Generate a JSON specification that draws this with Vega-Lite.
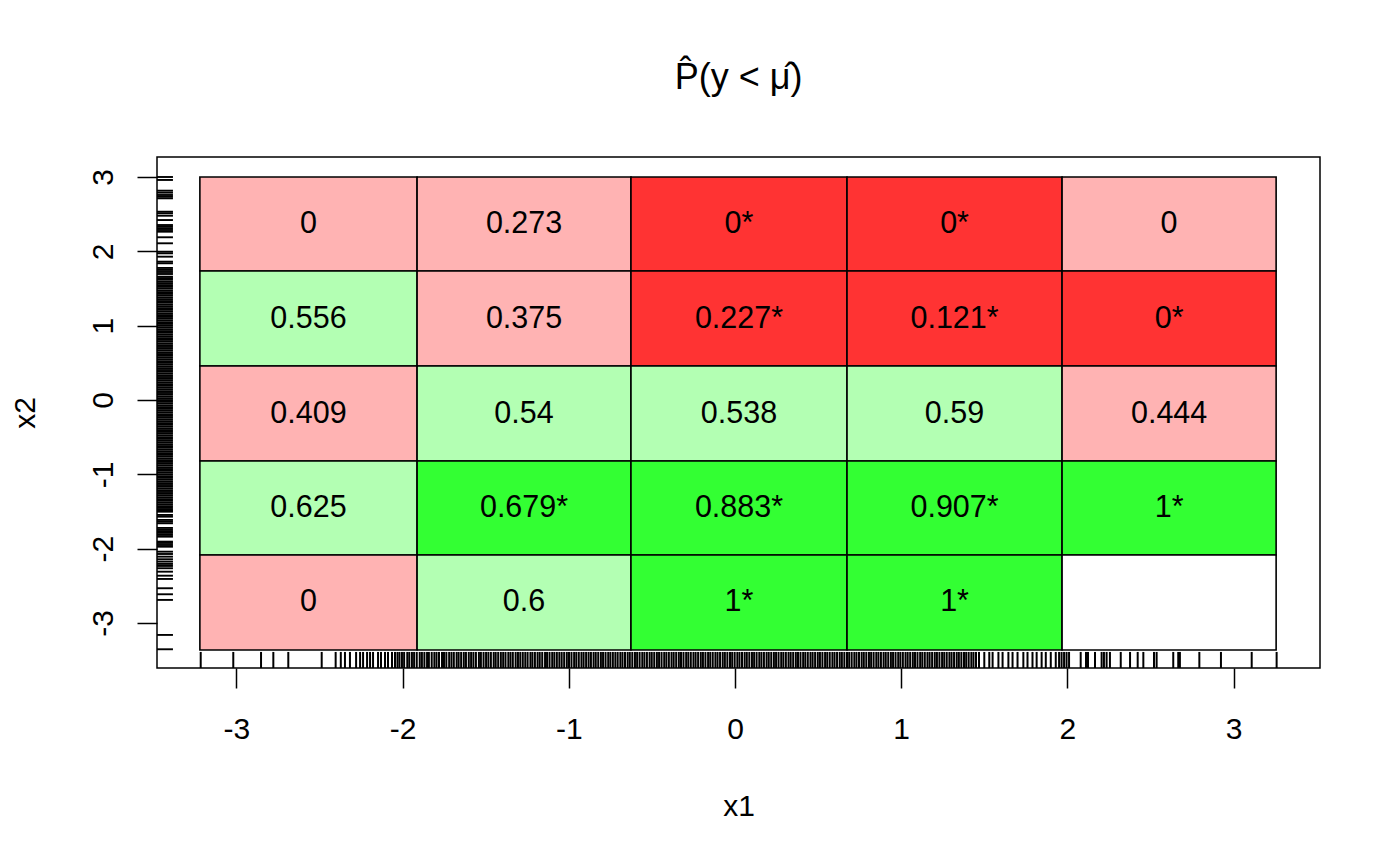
{
  "$schema": "https://vega.github.io/schema/vega-lite/v6.json",
  "autosize": {"type": "none"},
  "padding": {"left": 157, "top": 157, "right": 80, "bottom": 197},
  "width": 1163,
  "height": 511,
  "background": "white",
  "title": {"text": "P\u0302(y < \u03bc\u0302)", "fontSize": 36, "font": "Liberation Sans", "fontWeight": "normal", "color": "black", "offset": 32, "baseline": "alphabetic", "anchor": "middle"},
  "config": {
    "view": {"stroke": "black", "strokeWidth": 1.5},
    "axis": {"domain": false, "grid": false, "tickColor": "black", "tickWidth": 1.5, "tickSize": 20, "labelFont": "Liberation Sans", "labelFontSize": 30, "labelColor": "black", "titleFont": "Liberation Sans", "titleFontSize": 30, "titleFontWeight": "normal", "titleColor": "black"},
    "axisX": {"labelPadding": 26, "titlePadding": 47},
    "axisY": {"labelPadding": 25, "labelAngle": 270, "labelAlign": "center", "labelBaseline": "alphabetic", "titlePadding": 48}
  },
  "datasets": {
    "cells": [
      {"x1": -3.22, "x2": -1.913, "y1": 1.735, "y2": 3.0, "label": "0", "cls": "low"},
      {"x1": -1.913, "x2": -0.626, "y1": 1.735, "y2": 3.0, "label": "0.273", "cls": "low"},
      {"x1": -0.626, "x2": 0.674, "y1": 1.735, "y2": 3.0, "label": "0*", "cls": "low*"},
      {"x1": 0.674, "x2": 1.968, "y1": 1.735, "y2": 3.0, "label": "0*", "cls": "low*"},
      {"x1": 1.968, "x2": 3.256, "y1": 1.735, "y2": 3.0, "label": "0", "cls": "low"},
      {"x1": -3.22, "x2": -1.913, "y1": 0.457, "y2": 1.735, "label": "0.556", "cls": "high"},
      {"x1": -1.913, "x2": -0.626, "y1": 0.457, "y2": 1.735, "label": "0.375", "cls": "low"},
      {"x1": -0.626, "x2": 0.674, "y1": 0.457, "y2": 1.735, "label": "0.227*", "cls": "low*"},
      {"x1": 0.674, "x2": 1.968, "y1": 0.457, "y2": 1.735, "label": "0.121*", "cls": "low*"},
      {"x1": 1.968, "x2": 3.256, "y1": 0.457, "y2": 1.735, "label": "0*", "cls": "low*"},
      {"x1": -3.22, "x2": -1.913, "y1": -0.821, "y2": 0.457, "label": "0.409", "cls": "low"},
      {"x1": -1.913, "x2": -0.626, "y1": -0.821, "y2": 0.457, "label": "0.54", "cls": "high"},
      {"x1": -0.626, "x2": 0.674, "y1": -0.821, "y2": 0.457, "label": "0.538", "cls": "high"},
      {"x1": 0.674, "x2": 1.968, "y1": -0.821, "y2": 0.457, "label": "0.59", "cls": "high"},
      {"x1": 1.968, "x2": 3.256, "y1": -0.821, "y2": 0.457, "label": "0.444", "cls": "low"},
      {"x1": -3.22, "x2": -1.913, "y1": -2.085, "y2": -0.821, "label": "0.625", "cls": "high"},
      {"x1": -1.913, "x2": -0.626, "y1": -2.085, "y2": -0.821, "label": "0.679*", "cls": "high*"},
      {"x1": -0.626, "x2": 0.674, "y1": -2.085, "y2": -0.821, "label": "0.883*", "cls": "high*"},
      {"x1": 0.674, "x2": 1.968, "y1": -2.085, "y2": -0.821, "label": "0.907*", "cls": "high*"},
      {"x1": 1.968, "x2": 3.256, "y1": -2.085, "y2": -0.821, "label": "1*", "cls": "high*"},
      {"x1": -3.22, "x2": -1.913, "y1": -3.363, "y2": -2.085, "label": "0", "cls": "low"},
      {"x1": -1.913, "x2": -0.626, "y1": -3.363, "y2": -2.085, "label": "0.6", "cls": "high"},
      {"x1": -0.626, "x2": 0.674, "y1": -3.363, "y2": -2.085, "label": "1*", "cls": "high*"},
      {"x1": 0.674, "x2": 1.968, "y1": -3.363, "y2": -2.085, "label": "1*", "cls": "high*"},
      {"x1": 1.968, "x2": 3.256, "y1": -3.363, "y2": -2.085, "label": "", "cls": "none"}
    ],
    "rugx": [-3.215, -3.019, -2.852, -2.778, -2.688, -2.487, -2.403, -2.372, -2.347, -2.317, -2.28, -2.256, -2.238, -2.214, -2.196, -2.178, -2.148, -2.13, -2.106, -2.088, -2.064, -2.046,
      -2.031, -2.019, -2.004, -1.991, -1.972, -1.96, -1.944, -1.931, -1.915, -1.897, -1.884, -1.869, -1.853, -1.842, -1.825, -1.809, -1.796, -1.781, -1.763, -1.751, -1.737, -1.72, -1.706, -1.692, -1.675, -1.663, -1.648, -1.632, -1.619, -1.602, -1.588, -1.574, -1.559, -1.541, -1.529, -1.513, -1.498, -1.484, -1.469, -1.452, -1.44, -1.425, -1.409, -1.395, -1.381, -1.364, -1.351, -1.337, -1.32, -1.306, -1.292, -1.277, -1.262, -1.248, -1.231, -1.219, -1.204, -1.188, -1.175, -1.16, -1.143, -1.131, -1.116, -1.1, -1.087, -1.072, -1.057, -1.043, -1.028, -1.012, -0.999, -0.984, -0.968, -0.955, -0.94, -0.924, -0.911, -0.896, -0.881, -0.867, -0.851, -0.838, -0.823, -0.807, -0.794, -0.779, -0.763, -0.75, -0.735, -0.72, -0.706, -0.69, -0.677, -0.662, -0.646, -0.633, -0.618, -0.602, -0.589, -0.574, -0.558, -0.545, -0.53, -0.514, -0.501, -0.486, -0.47, -0.457, -0.442, -0.426, -0.413, -0.398, -0.382, -0.369, -0.354, -0.338, -0.325, -0.31, -0.294, -0.281, -0.266, -0.25, -0.237, -0.222, -0.206, -0.193, -0.178, -0.162, -0.149, -0.134, -0.118, -0.105, -0.09, -0.074, -0.061, -0.046, -0.03, -0.017, -0.002, 0.014, 0.027, 0.042, 0.058, 0.071, 0.086, 0.102, 0.115, 0.13, 0.146, 0.159, 0.174, 0.19, 0.203, 0.218, 0.234, 0.247, 0.262, 0.278, 0.291, 0.306, 0.322, 0.335, 0.35, 0.366, 0.379, 0.394, 0.41, 0.423, 0.438, 0.454, 0.467, 0.482, 0.498, 0.511, 0.526, 0.542, 0.555, 0.57, 0.586, 0.599, 0.614, 0.63, 0.643, 0.658, 0.674, 0.687, 0.702, 0.718, 0.731, 0.746, 0.762, 0.775, 0.79, 0.806, 0.819, 0.834, 0.85, 0.863, 0.878, 0.894, 0.907, 0.922, 0.938, 0.951, 0.966, 0.982, 0.995, 1.01, 1.026, 1.039, 1.054, 1.07, 1.083, 1.098, 1.114, 1.127, 1.142, 1.158, 1.171, 1.186, 1.202, 1.215, 1.23, 1.246, 1.259, 1.274, 1.29, 1.303, 1.318, 1.334, 1.347, 1.362, 1.378, 1.391, 1.406, 1.422, 1.435, 1.45,
      1.468, 1.5, 1.53, 1.55, 1.585, 1.61, 1.645, 1.67, 1.7, 1.735, 1.76, 1.79, 1.815, 1.845, 1.87, 1.9, 1.93, 1.95, 1.965, 1.98, 1.995, 2.01,
      2.08, 2.112, 2.124, 2.166, 2.206, 2.22, 2.236, 2.256, 2.321, 2.377, 2.423, 2.457, 2.521, 2.537, 2.637, 2.667, 2.677, 2.794, 2.924, 3.109, 3.259],
    "rugy": [3.0, 2.96, 2.816, 2.789, 2.758, 2.735, 2.713, 2.533, 2.512, 2.479, 2.421, 2.354, 2.331, 2.31, 2.287, 2.264, 2.189, 2.108, 1.995, 1.973, 1.928, 1.861, 1.839, 1.776, 1.749, 1.722, 1.695, 1.659,
      1.64, 1.618, 1.592, 1.571, 1.546, 1.522, 1.5, 1.474, 1.451, 1.427, 1.404, 1.379, 1.356, 1.331, 1.309, 1.284, 1.261, 1.236, 1.213, 1.19, 1.165, 1.142, 1.117, 1.094, 1.07, 1.046, 1.023, 0.998, 0.975, 0.951, 0.927, 0.904, 0.879, 0.856, 0.832, 0.808, 0.785, 0.76, 0.737, 0.713, 0.689, 0.666, 0.641, 0.618, 0.594, 0.57, 0.547, 0.522, 0.499, 0.475, 0.451, 0.428, 0.403, 0.38, 0.356, 0.332, 0.309, 0.284, 0.261, 0.237, 0.213, 0.19, 0.165, 0.142, 0.118, 0.094, 0.071, 0.046, 0.023, -0.001, -0.025, -0.048, -0.073, -0.096, -0.12, -0.144, -0.167, -0.192, -0.215, -0.239, -0.263, -0.286, -0.311, -0.334, -0.358, -0.382, -0.405, -0.43, -0.453, -0.477, -0.501, -0.524, -0.549, -0.572, -0.596, -0.62, -0.643, -0.668, -0.691, -0.715, -0.739, -0.762, -0.787, -0.81, -0.834, -0.858, -0.881, -0.906, -0.929, -0.953, -0.977, -1.0, -1.025, -1.048, -1.072, -1.096, -1.119, -1.144, -1.167, -1.191, -1.215, -1.238, -1.263, -1.286, -1.31, -1.334, -1.357, -1.382, -1.405, -1.429, -1.453, -1.476, -1.49,
      -1.503, -1.547, -1.57, -1.614, -1.637, -1.659, -1.722, -1.749, -1.772, -1.789, -1.816, -1.839, -1.906, -1.924, -1.951, -1.974, -2.041, -2.072, -2.108, -2.143, -2.175, -2.206, -2.233, -2.264, -2.31, -2.364, -2.408, -2.533, -2.614, -2.69, -3.161, -3.354]
  },
  "layer": [
    {
      "data": {"name": "cells"},
      "mark": {"type": "rect", "stroke": "black", "strokeWidth": 1.6},
      "encoding": {
        "x": {"field": "x1", "type": "quantitative", "scale": {"domain": [-3.478, 3.52], "nice": false, "zero": false}, "axis": {"values": [-3, -2, -1, 0, 1, 2, 3], "labelExpr": "'' + datum.value"}, "title": "x1"},
        "x2": {"field": "x2"},
        "y": {"field": "y1", "type": "quantitative", "scale": {"domain": [-3.606, 3.269], "nice": false, "zero": false}, "axis": {"values": [-3, -2, -1, 0, 1, 2, 3], "labelExpr": "'' + datum.value"}, "title": "x2"},
        "y2": {"field": "y2"},
        "color": {"field": "cls", "type": "nominal", "scale": {"domain": ["low", "low*", "high", "high*", "none"], "range": ["#FFB3B3", "#FF3333", "#B3FFB3", "#33FF33", "#FFFFFF"]}, "legend": null}
      }
    },
    {
      "data": {"name": "cells"},
      "transform": [{"calculate": "(datum.x1 + datum.x2) / 2", "as": "xm"}, {"calculate": "(datum.y1 + datum.y2) / 2", "as": "ym"}],
      "mark": {"type": "text", "font": "Liberation Sans", "fontSize": 30.5, "color": "black", "align": "center", "baseline": "middle"},
      "encoding": {
        "x": {"field": "xm", "type": "quantitative", "title": "x1"},
        "y": {"field": "ym", "type": "quantitative", "title": "x2"},
        "text": {"field": "label"}
      }
    },
    {
      "data": {"name": "rugx"},
      "mark": {"type": "rule", "color": "black", "strokeWidth": 2},
      "encoding": {
        "x": {"field": "data", "type": "quantitative", "title": "x1"},
        "y": {"datum": -3.39, "type": "quantitative", "title": "x2"},
        "y2": {"datum": -3.606}
      }
    },
    {
      "data": {"name": "rugy"},
      "mark": {"type": "rule", "color": "black", "strokeWidth": 1.9},
      "encoding": {
        "y": {"field": "data", "type": "quantitative", "title": "x2"},
        "x": {"datum": -3.478, "type": "quantitative", "title": "x1"},
        "x2": {"datum": -3.382}
      }
    }
  ]
}
